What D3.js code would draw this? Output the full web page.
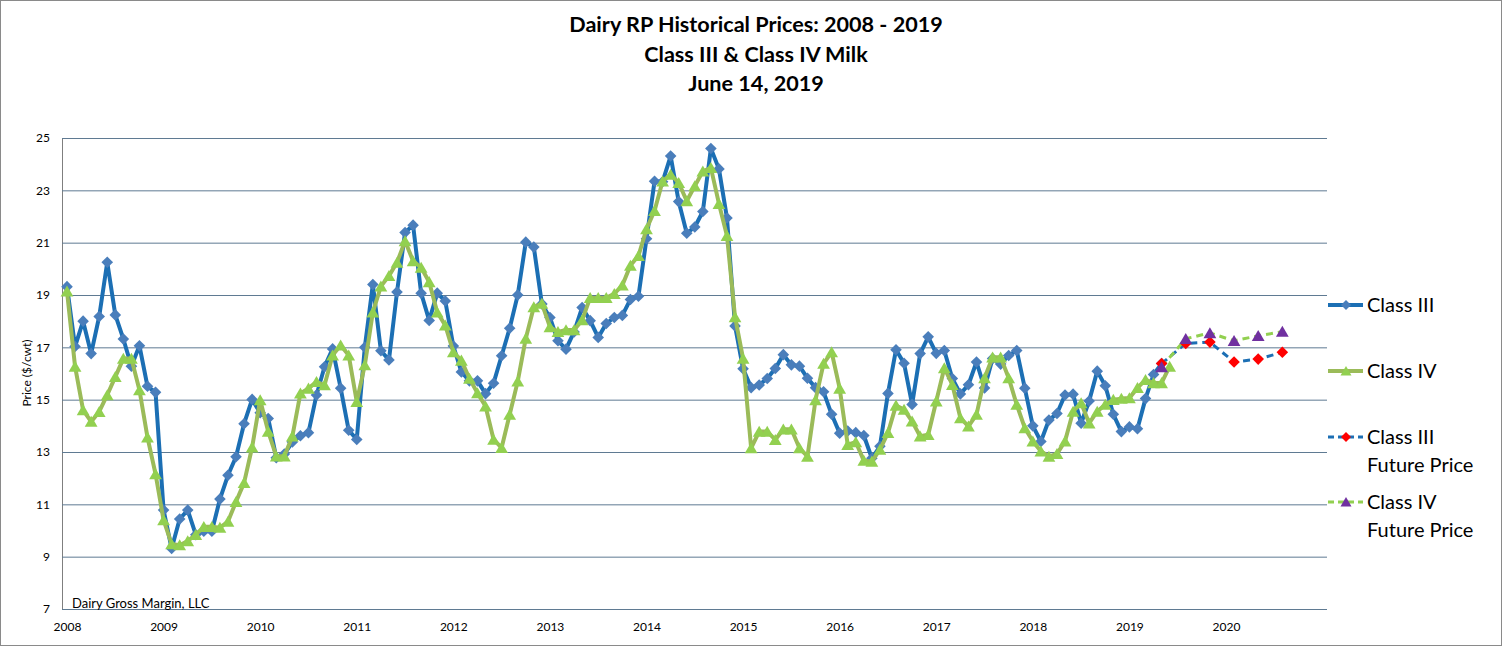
<!DOCTYPE html>
<html>
<head>
<meta charset="utf-8">
<script src="https://cdnjs.cloudflare.com/ajax/libs/d3/7.8.5/d3.min.js"></script>
<style>
body { margin: 0; background: #fff; }
svg { display: block; font-family: Lato, "Open Sans", sans-serif; }
</style>
</head>
<body>
<div id="chart"></div>
<script>
// chart data, one value per month starting Jan 2008
var titleLines = ['Dairy RP Historical Prices: 2008 - 2019', 'Class III & Class IV Milk', 'June 14, 2019'];
var yearLabels = ['2008', '2009', '2010', '2011', '2012', '2013', '2014', '2015', '2016', '2017', '2018', '2019', '2020'];
var yTicks = [7, 9, 11, 13, 15, 17, 19, 21, 23, 25];

var class3 = [
    19.32, 17.03, 18.00, 16.76, 18.18, 20.25, 18.24, 17.32, 16.28, 17.06, 15.51, 15.28,
    10.78, 9.31, 10.44, 10.78, 9.84, 9.97, 9.97, 11.20, 12.11, 12.82, 14.08, 15.01,
    14.50, 14.28, 12.78, 12.92, 13.38, 13.62, 13.74, 15.18, 16.26, 16.94, 15.44, 13.83,
    13.48, 17.00, 19.40, 16.87, 16.52, 19.11, 21.39, 21.67, 19.07, 18.03, 19.07, 18.77,
    17.05, 16.06, 15.72, 15.72, 15.23, 15.63, 16.68, 17.73, 19.00, 21.02, 20.83, 18.66,
    18.14, 17.25, 16.93, 17.59, 18.52, 18.02, 17.38, 17.91, 18.14, 18.22, 18.83, 18.95,
    21.15, 23.35, 23.33, 24.31, 22.57, 21.36, 21.60, 22.19, 24.60, 23.82, 21.94, 17.82,
    16.18, 15.46, 15.56, 15.81, 16.19, 16.72, 16.33, 16.28, 15.82, 15.46, 15.30, 14.44,
    13.72, 13.80, 13.74, 13.63, 12.76, 13.22, 15.24, 16.91, 16.39, 14.82, 16.76, 17.40,
    16.77, 16.88, 15.81, 15.22, 15.57, 16.44, 15.45, 16.57, 16.36, 16.69, 16.88, 15.44,
    14.00, 13.40, 14.22, 14.47, 15.18, 15.21, 14.10, 14.95, 16.09, 15.53, 14.44, 13.78,
    13.96, 13.89, 15.04, 15.96, 16.38
];

var class4 = [
    19.14, 16.27, 14.60, 14.16, 14.54, 15.18, 15.87, 16.57, 16.57, 15.37, 13.56, 12.16,
    10.40, 9.48, 9.44, 9.60, 9.84, 10.14, 10.14, 10.11, 10.34, 11.10, 11.82, 13.18,
    14.99, 13.78, 12.84, 12.84, 13.60, 15.24, 15.43, 15.68, 15.56, 16.70, 17.08, 16.70,
    14.92, 16.32, 18.34, 19.33, 19.73, 20.24, 21.06, 20.30, 20.05, 19.50, 18.34, 17.84,
    16.82, 16.50, 15.81, 15.25, 14.75, 13.48, 13.16, 14.43, 15.70, 17.34, 18.54, 18.67,
    17.78, 17.59, 17.66, 17.66, 18.04, 18.89, 18.89, 18.89, 19.05, 19.37, 20.13, 20.50,
    21.52, 22.22, 23.35, 23.60, 23.29, 22.59, 23.16, 23.73, 23.86, 22.49, 21.26, 18.16,
    16.57, 13.15, 13.78, 13.78, 13.47, 13.87, 13.87, 13.15, 12.83, 14.99, 16.38, 16.82,
    15.43, 13.28, 13.38, 12.67, 12.64, 13.09, 13.73, 14.78, 14.62, 14.17, 13.60, 13.66,
    14.94, 16.21, 15.57, 14.30, 13.98, 14.43, 15.83, 16.62, 16.62, 15.83, 14.81, 13.92,
    13.41, 13.03, 12.83, 12.93, 13.41, 14.55, 14.87, 14.10, 14.55, 14.81, 15.00, 15.04,
    15.06, 15.45, 15.76, 15.64, 15.64, 16.27
];

// futures are quarterly, month index counted from Jan 2008
var futureMonths = [136, 139, 142, 145, 148, 151];
var class3Future = [16.38, 17.15, 17.20, 16.44, 16.55, 16.81];
var class4Future = [16.25, 17.33, 17.55, 17.25, 17.44, 17.60];

var width = 1502, height = 646;
var plotLeft = 62, plotRight = 1327, plotTop = 138, plotBottom = 609;

var svg = d3.select('#chart').append('svg')
    .attr('width', width)
    .attr('height', height);

svg.append('rect')
    .attr('x', 0.5).attr('y', 0.5)
    .attr('width', width - 1).attr('height', height - 1)
    .attr('fill', '#fff')
    .attr('stroke', '#8a8a8a');

var x = d3.scaleLinear().domain([0, 144]).range([67, 1226]);
var y = d3.scaleLinear().domain([7, 25]).range([plotBottom, plotTop]);

//title
svg.append('g').selectAll('text')
    .data(titleLines)
    .join('text')
    .attr('x', 756)
    .attr('y', (d, i) => 32 + i * 29.5)
    .attr('text-anchor', 'middle')
    .attr('font-size', 21.6)
    .attr('font-weight', 'bold')
    .attr('fill', '#000')
    .text(d => d);

//gridlines + y axis
var yAxis = d3.axisLeft(y).tickValues(yTicks).tickSize(-(plotRight - plotLeft)).tickSizeOuter(0).tickPadding(12);
var gy = svg.append('g')
    .attr('transform', 'translate(' + plotLeft + ',0)')
    .call(yAxis);
gy.select('.domain').attr('stroke', '#7f7f7f');
gy.selectAll('.tick line').attr('stroke', '#5f7a92').attr('stroke-width', 1);
gy.selectAll('.tick text').attr('font-size', 12).attr('fill', '#000').attr('font-family', 'Lato, sans-serif');

//x axis
var xAxis = d3.axisBottom(x)
    .tickValues(d3.range(0, 145, 12))
    .tickFormat((d, i) => yearLabels[i])
    .tickSize(0)
    .tickPadding(13);
var gx = svg.append('g')
    .attr('transform', 'translate(0,' + plotBottom + ')')
    .call(xAxis);
gx.select('.domain').remove();
gx.selectAll('.tick text').attr('font-size', 12).attr('fill', '#000').attr('font-family', 'Lato, sans-serif');

svg.append('text')
    .attr('transform', 'translate(31,373) rotate(-90)')
    .attr('text-anchor', 'middle')
    .attr('font-size', 12)
    .text('Price ($/cwt)');

svg.append('text')
    .attr('x', 72).attr('y', 608)
    .attr('font-size', 13)
    .text('Dairy Gross Margin, LLC');

var diamond = r => 'M0,' + (-r) + 'L' + r + ',0L0,' + r + 'L' + (-r) + ',0Z';
var triangle = r => 'M0,' + (-r) + 'L' + (r * 1.1) + ',' + (r * 0.9) + 'L' + (-r * 1.1) + ',' + (r * 0.9) + 'Z';

var line = d3.line().x((d, i) => x(i)).y(d => y(d));
var futLine = d3.line().x(d => x(d.m)).y(d => y(d.v));

var blueLine = '#1c6fb4', blueMark = '#4a7ebb';
var greenLine = '#9bbb59', greenMark = '#92d050';

// Class III
svg.append('path').datum(class3)
    .attr('d', line).attr('fill', 'none')
    .attr('stroke', blueLine).attr('stroke-width', 4).attr('stroke-linejoin', 'round');
svg.append('g').selectAll('path').data(class3).join('path')
    .attr('transform', (d, i) => 'translate(' + x(i) + ',' + y(d) + ')')
    .attr('d', diamond(5.8)).attr('fill', blueMark);

// Class IV
svg.append('path').datum(class4)
    .attr('d', line).attr('fill', 'none')
    .attr('stroke', greenLine).attr('stroke-width', 4).attr('stroke-linejoin', 'round');
svg.append('g').selectAll('path').data(class4).join('path')
    .attr('transform', (d, i) => 'translate(' + x(i) + ',' + y(d) + ')')
    .attr('d', triangle(5.8)).attr('fill', greenMark);

// futures
var fut3 = futureMonths.map((m, i) => ({ m: m, v: class3Future[i] }));
var fut4 = futureMonths.map((m, i) => ({ m: m, v: class4Future[i] }));

svg.append('path').datum(fut3)
    .attr('d', futLine).attr('fill', 'none')
    .attr('stroke', blueLine).attr('stroke-width', 3).attr('stroke-dasharray', '7,5');
svg.append('path').datum(fut4)
    .attr('d', futLine).attr('fill', 'none')
    .attr('stroke', greenMark).attr('stroke-width', 3).attr('stroke-dasharray', '7,5');
svg.append('g').selectAll('path').data(fut3).join('path')
    .attr('transform', d => 'translate(' + x(d.m) + ',' + y(d.v) + ')')
    .attr('d', diamond(5.8)).attr('fill', '#ff0000');
svg.append('g').selectAll('path').data(fut4).join('path')
    .attr('transform', d => 'translate(' + x(d.m) + ',' + y(d.v) + ')')
    .attr('d', triangle(5.8)).attr('fill', '#7030a0');

// legend
var legendItems = [
    { label: ['Class III'], cy: 305, stroke: blueLine, dash: null, mark: diamond(5), fill: blueMark },
    { label: ['Class IV'], cy: 371, stroke: greenLine, dash: null, mark: triangle(5), fill: greenMark },
    { label: ['Class III', 'Future Price'], cy: 437, stroke: blueLine, dash: '6,4', mark: diamond(5), fill: '#ff0000' },
    { label: ['Class IV', 'Future Price'], cy: 502, stroke: greenMark, dash: '6,4', mark: triangle(5), fill: '#7030a0' }
];

var lg = svg.append('g').selectAll('g').data(legendItems).join('g')
    .attr('transform', d => 'translate(0,' + d.cy + ')');
lg.append('line')
    .attr('x1', 1328).attr('x2', 1363)
    .attr('stroke', d => d.stroke)
    .attr('stroke-width', d => d.dash ? 3 : 4)
    .attr('stroke-dasharray', d => d.dash);
lg.append('path')
    .attr('transform', 'translate(1346,0)')
    .attr('d', d => d.mark)
    .attr('fill', d => d.fill);
lg.each(function(d) {
    d3.select(this).selectAll('text').data(d.label).join('text')
        .attr('x', 1367)
        .attr('y', (t, i) => 7 + i * 27.5)
        .attr('font-size', 20)
        .attr('fill', '#000')
        .text(t => t);
});
</script>
</body>
</html>
